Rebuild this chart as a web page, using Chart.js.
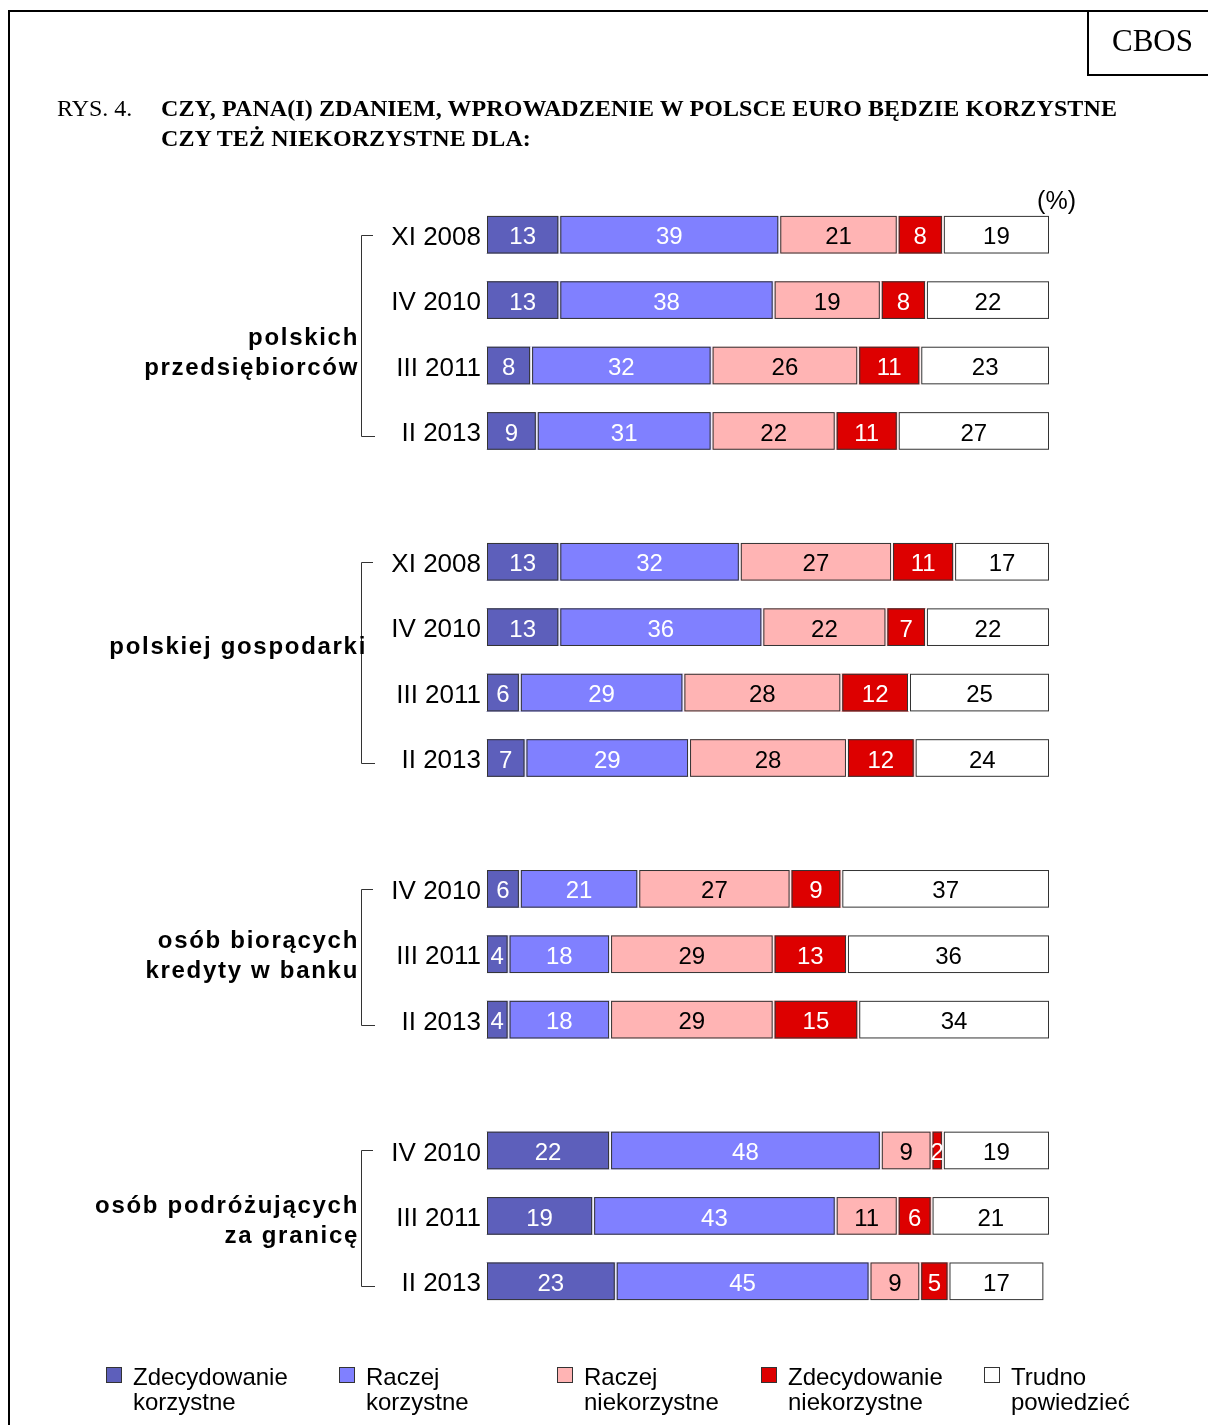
<!DOCTYPE html>
<html>
<head>
<meta charset="utf-8">
<script src="https://cdn.jsdelivr.net/npm/chart.js@4.4.1/dist/chart.umd.min.js"></script>
<style>
  html, body { margin:0; padding:0; background:#fff; }
  #page { position:relative; width:1208px; height:1425px; overflow:hidden; }
  #chart { position:absolute; left:0; top:0; }
  .frame-left { position:absolute; left:8px; top:10px; width:2px; height:1500px; background:#000; }
  .frame-top  { position:absolute; left:8px; top:10px; width:1300px; height:2px; background:#000; }
  .cbos { position:absolute; left:1087px; top:10px; width:200px; height:64px;
          border-left:2px solid #000; border-bottom:2px solid #000;
          font-family:"Liberation Serif","Times New Roman",serif; font-size:31px; }
  .cbos span { position:absolute; left:23px; top:13px; }
  .title { position:absolute; font-family:"Liberation Serif","Times New Roman",serif; font-size:24px; line-height:30px; }
  .legend-item { position:absolute; top:1364px; font-family:"Liberation Sans",Arial,sans-serif;
                 font-size:24px; line-height:25px; color:#000; }
  .legend-item i { position:absolute; left:0; top:3px; width:14px; height:14px; border:1px solid #333; }
  .legend-item span { position:absolute; left:27px; top:0; white-space:nowrap; }
</style>
</head>
<body>
<div id="page">
  <canvas id="chart" width="1208" height="1425"></canvas>
  <div class="frame-left"></div>
  <div class="frame-top"></div>
  <div class="cbos"><span>CBOS</span></div>
  <div class="title" style="left:57px; top:93px;">RYS. 4.</div>
  <div class="title" style="left:161px; top:93px; font-weight:bold; letter-spacing:0.1px;">CZY, PANA(I) ZDANIEM, WPROWADZENIE W POLSCE EURO BĘDZIE KORZYSTNE<br>CZY TEŻ NIEKORZYSTNE DLA:</div>
  <div id="legend"></div>
</div>
<script>
// ── Data (blank rows are spacers between groups) ─────────────────────────
const rowLabels = ["XI 2008","IV 2010","III 2011","II 2013","",
                   "XI 2008","IV 2010","III 2011","II 2013","",
                   "IV 2010","III 2011","II 2013","",
                   "IV 2010","III 2011","II 2013"];

const zdecKorzystne  = [13,13, 8, 9,null, 13,13, 6, 7,null,  6, 4, 4,null, 22,19,23];
const raczejKorzyst  = [39,38,32,31,null, 32,36,29,29,null, 21,18,18,null, 48,43,45];
const raczejNiekorz  = [21,19,26,22,null, 27,22,28,28,null, 27,29,29,null,  9,11, 9];
const zdecNiekorz    = [ 8, 8,11,11,null, 11, 7,12,12,null,  9,13,15,null,  2, 6, 5];
const trudno         = [19,22,23,27,null, 17,22,25,24,null, 37,36,34,null, 19,21,17];

const seriesNames  = [["Zdecydowanie","korzystne"],["Raczej","korzystne"],["Raczej","niekorzystne"],
                      ["Zdecydowanie","niekorzystne"],["Trudno","powiedzieć"]];
const seriesColors = ["#5d5fbb","#8080ff","#ffb4b4","#dd0000","#ffffff"];
const labelColors  = ["#fff","#fff","#000","#fff","#000"];

// group captions: [first row, last row, caption centre (row units), caption lines]
const groups = [
    [0, 3,  1.82,  ["polskich","przedsiębiorców"]],
    [5, 8,  6.31,  ["polskiej gospodarki"]],
    [10,12, 11.03, ["osób biorących","kredyty w banku"]],
    [14,16, 15.09, ["osób podróżujących","za granicę"]],
];

const FONT = '"Liberation Sans", Arial, sans-serif';

// ── Segment outline + value labels ───────────────────────────────────────
const segmentPlugin = {
    id: "segments",
    afterDatasetsDraw(chart) {
        const ctx = chart.ctx;
        ctx.save();
        chart.data.datasets.forEach((ds, di) => {
            const meta = chart.getDatasetMeta(di);
            meta.data.forEach((bar, i) => {
                const v = ds.data[i];
                if (v == null) return;
                const left = Math.min(bar.x, bar.base), right = Math.max(bar.x, bar.base);
                const top = bar.y - bar.height / 2, h = bar.height;
                // white gap at both ends, then grey outline
                ctx.fillStyle = "#fff";
                ctx.fillRect(left, top, 1, h);
                ctx.fillRect(right - 1, top, 1, h);
                ctx.strokeStyle = "#333";
                ctx.lineWidth = 1;
                ctx.strokeRect(left + 1.5, top + 0.5, right - left - 3, h - 1);
                // value
                ctx.fillStyle = labelColors[di];
                ctx.font = "24px " + FONT;
                ctx.textAlign = "center";
                ctx.textBaseline = "middle";
                ctx.fillText(String(v), (left + right) / 2, bar.y + 3);
            });
        });
        ctx.restore();
    }
};

// ── Group brackets, captions and (%) ─────────────────────────────────────
const groupPlugin = {
    id: "groups",
    afterDraw(chart) {
        const ctx = chart.ctx, y = chart.scales.y;
        const rowH = y.getPixelForValue(1) - y.getPixelForValue(0);
        ctx.save();
        groups.forEach(([a, b, c, lines]) => {
            const y0 = Math.round(y.getPixelForValue(a)) + 0.5;
            const y1 = Math.round(y.getPixelForValue(b)) + 5.5;
            ctx.strokeStyle = "#333";
            ctx.lineWidth = 1;
            ctx.beginPath();
            ctx.moveTo(373, y0); ctx.lineTo(361.5, y0);
            ctx.lineTo(361.5, y1); ctx.lineTo(375, y1);
            ctx.stroke();
            const mid = y.getPixelForValue(0) + c * rowH;
            ctx.font = "bold 24px " + FONT;
            ctx.letterSpacing = "1.7px";
            ctx.fillStyle = "#000";
            ctx.textAlign = "right";
            ctx.textBaseline = "middle";
            lines.forEach((t, k) => {
                const ty = mid + (k - (lines.length - 1) / 2) * 30;
                ctx.fillText(t, lines.length === 1 ? 367 : 359, ty);
            });
        });
        ctx.letterSpacing = "0px";
        ctx.font = "25px " + FONT;
        ctx.textAlign = "right";
        ctx.textBaseline = "middle";
        ctx.fillStyle = "#000";
        ctx.fillText("(%)", 1076, chart.chartArea.top);
        ctx.restore();
    }
};

const datasets = [zdecKorzystne, raczejKorzyst, raczejNiekorz, zdecNiekorz, trudno].map((d, i) => ({
    label: seriesNames[i].join(" "),
    data: d,
    backgroundColor: seriesColors[i],
    borderWidth: 0,
    categoryPercentage: 1,
    barPercentage: 0.575,
}));

new Chart(document.getElementById("chart"), {
    type: "bar",
    data: { labels: rowLabels, datasets },
    options: {
        indexAxis: "y",
        responsive: false,
        animation: false,
        devicePixelRatio: 1,
        layout: { padding: { left: 356, right: 158, top: 202, bottom: 111 } },
        plugins: { legend: { display: false }, tooltip: { enabled: false } },
        scales: {
            x: { stacked: true, min: 0, max: 100, display: false },
            y: {
                stacked: true,
                grid: { display: false, drawTicks: false },
                border: { display: false },
                ticks: { autoSkip: false, padding: 5, labelOffset: 3, color: "#000",
                         font: { family: FONT, size: 26 } },
                afterFit: s => { s.width = 130; },
            },
        },
    },
    plugins: [segmentPlugin, groupPlugin],
});

// ── Legend ───────────────────────────────────────────────────────────────
const legendX = [106, 339, 557, 761, 984];
document.getElementById("legend").innerHTML = seriesNames.map((n, i) =>
    `<div class="legend-item" style="left:${legendX[i]}px">
        <i style="background:${seriesColors[i]}"></i>
        <span>${n[0]}<br>${n[1]}</span>
     </div>`).join("");
</script>
</body>
</html>
